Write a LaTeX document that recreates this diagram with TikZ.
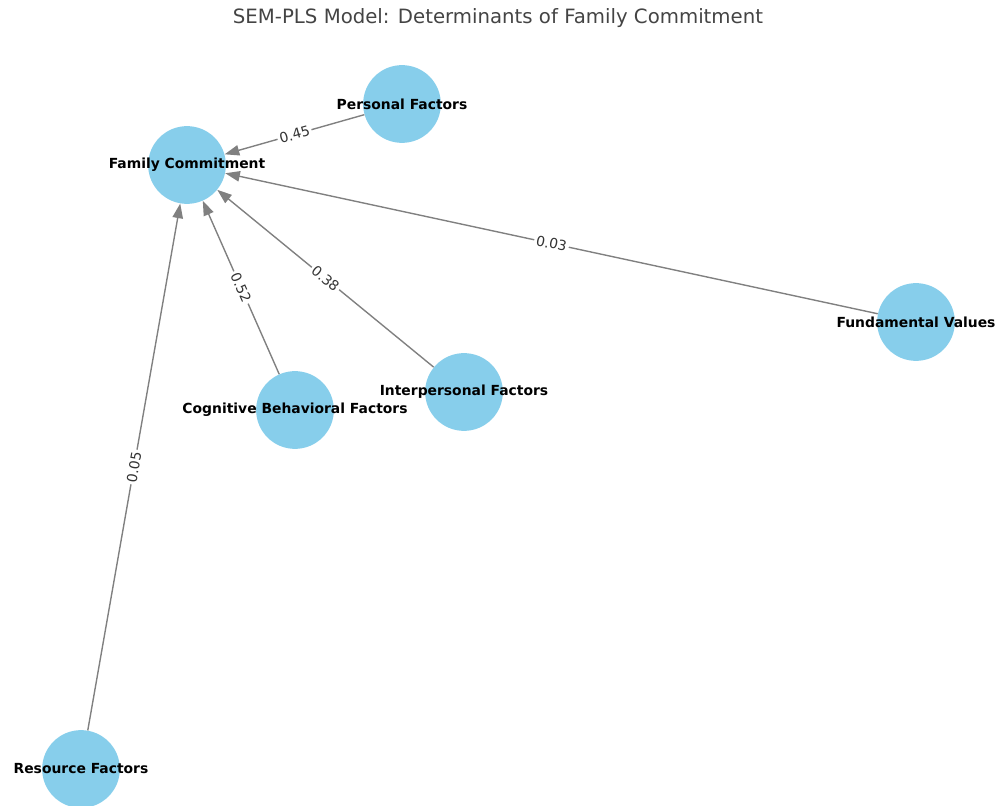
\documentclass[tikz,border=0pt]{standalone}
\usepackage{fontspec}
\setmainfont{DejaVu Sans}
\usetikzlibrary{arrows.meta}
\definecolor{cnode}{HTML}{87CEEB}
\definecolor{cedge}{HTML}{808080}
\definecolor{ctitle}{HTML}{444444}
\tikzset{
  every picture/.style={x=0.72pt, y=-0.72pt},
  factor/.style={circle, fill=cnode, draw=none, minimum size=56pt, inner sep=0pt,
    label={[font=\fontsize{10}{12}\selectfont\bfseries, text=black]center:#1}},
  path/.style={-{Triangle[length=10.5pt, width=7.5pt]}, draw=cedge, line width=1pt},
  weight/.style={midway, sloped, fill=white, inner sep=1.5pt, font=\fontsize{10}{12}\selectfont, text=black!80},
  title/.style={font=\fontsize{14.2}{16}\selectfont, text=ctitle},
}

\begin{document}
\begin{tikzpicture}
  \useasboundingbox (0,0) rectangle (998,806);
  \node[title] (t) at (498,18) {SEM-PLS Model: Determinants of Family Commitment};

  % constructs
  \node[factor={Family Commitment}] (fc) at (187,165) {};
  \node[factor={Personal Factors}] (pf) at (402,104) {};
  \node[factor={Fundamental Values}] (fv) at (916,322) {};
  \node[factor={Interpersonal Factors}] (ip) at (464,392) {};
  \node[factor={Cognitive Behavioral Factors}] (cb) at (295,410) {};
  \node[factor={Resource Factors}] (rf) at (81,769) {};

  % path coefficients
  \draw[path] (pf) -- node[weight] {0.45} (fc);
  \draw[path] (fv) -- node[weight] {0.03} (fc);
  \draw[path] (ip) -- node[weight] {0.38} (fc);
  \draw[path] (cb) -- node[weight] {0.52} (fc);
  \draw[path] (rf) -- node[weight] {0.05} (fc);
\end{tikzpicture}
\end{document}
